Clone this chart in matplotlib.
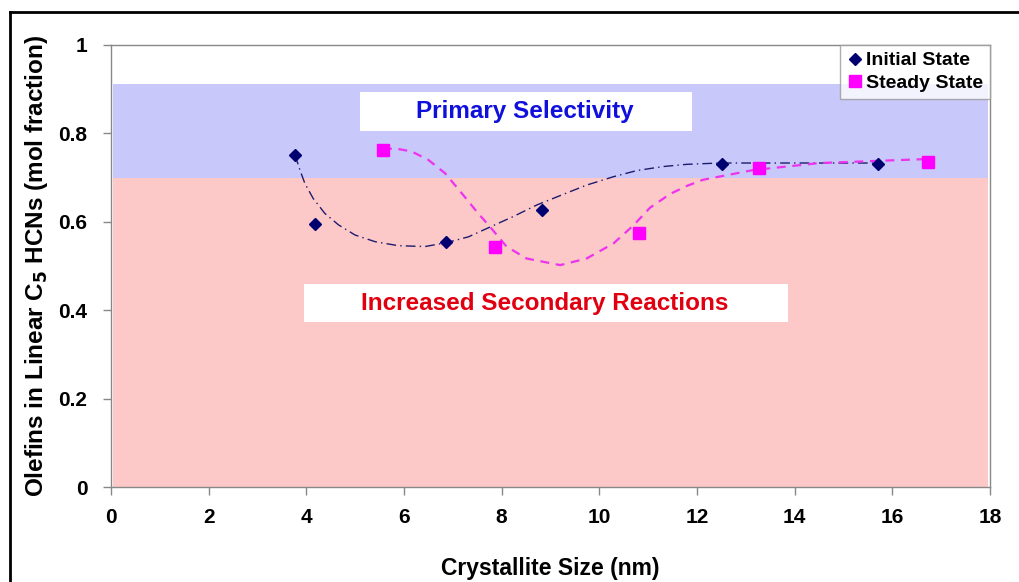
import matplotlib.pyplot as plt
from matplotlib.lines import Line2D
from matplotlib.patches import Rectangle

plt.rcParams['font.family'] = ['Liberation Sans', 'DejaVu Sans']
plt.rcParams['font.weight'] = 'bold'

# measured points
init_x = [3.77, 4.18, 6.86, 8.83, 12.51, 15.71]
init_y = [0.751, 0.595, 0.554, 0.627, 0.731, 0.731]
steady_x = [5.57, 7.86, 10.81, 13.27, 16.73]
steady_y = [0.762, 0.543, 0.575, 0.722, 0.735]

# smoothed trend lines
init_fit_x = [3.77, 3.87, 3.97, 4.14, 4.38, 4.66, 5.00, 5.41, 5.88, 6.43, 6.88, 7.32, 7.76,
              8.24, 8.72, 9.26, 9.74, 10.29, 10.77, 11.31, 11.79, 12.47, 14.25, 15.69]
init_fit_y = [0.751, 0.717, 0.687, 0.653, 0.619, 0.593, 0.570, 0.555, 0.546, 0.544, 0.553, 0.566, 0.588,
              0.612, 0.638, 0.662, 0.683, 0.702, 0.716, 0.725, 0.730, 0.733, 0.733, 0.733]
steady_fit_x = [5.57, 5.82, 6.16, 6.50, 6.84, 7.18, 7.52, 7.76, 8.10, 8.51, 9.20, 9.74, 10.29,
                10.70, 11.04, 11.45, 11.79, 12.12, 13.15, 14.52, 16.71]
steady_fit_y = [0.764, 0.766, 0.759, 0.740, 0.710, 0.665, 0.619, 0.589, 0.544, 0.517, 0.502, 0.517, 0.551,
                0.592, 0.632, 0.663, 0.681, 0.695, 0.717, 0.733, 0.742]

# selectivity regions
secondary_band = (0.0, 0.70)
primary_band = (0.70, 0.912)

fig = plt.figure(figsize=(10.19, 5.82), dpi=100)
ax = fig.add_axes([0.1089, 0.1632, 0.8626, 0.7595])

ax.axhspan(*secondary_band, xmin=0.002, xmax=0.998, color='#fcc8c8', lw=0, zorder=0)
ax.axhspan(*primary_band, xmin=0.002, xmax=0.998, color='#c8c8fa', lw=0, zorder=0)

ax.plot(init_fit_x, init_fit_y, color='#1c1c6e', lw=1.0, ls=(0, (7, 3, 1, 3)), zorder=2)
ax.plot(steady_fit_x, steady_fit_y, color='#ee33ee', lw=1.6, ls=(0, (4, 3)), zorder=2)
ax.plot(init_x, init_y, 'D', color='#000070', ms=6.5, ls='none', label='Initial State', zorder=3)
ax.plot(steady_x, steady_y, 's', color='#ff00ff', ms=9, ls='none', label='Steady State', zorder=3)

# label boxes
ax.add_patch(Rectangle((5.1, 0.805), 6.8, 0.089, fc='white', ec='none', zorder=4))
ax.add_patch(Rectangle((3.95, 0.373), 9.91, 0.086, fc='white', ec='none', zorder=4))
ax.text(8.48, 0.849, 'Primary Selectivity', color='#1010dd', fontsize=17.5, ha='center', va='center', zorder=5)
ax.text(8.89, 0.416, 'Increased Secondary Reactions', color='#e00010', fontsize=17.5, ha='center', va='center',
        zorder=5)

ax.set_xlim(0, 18)
ax.set_ylim(0, 1)
ax.set_xticks(range(0, 19, 2))
ax.set_yticks([0, 0.2, 0.4, 0.6, 0.8, 1])
ax.set_yticklabels(['0', '0.2', '0.4', '0.6', '0.8', '1'])
ax.tick_params(labelsize=15, colors='#888888', labelcolor='black', length=6, width=1)
ax.tick_params(axis='x', pad=9)
ax.tick_params(axis='y', pad=11)
for s in ax.spines.values():
    s.set_color('#888888')
    s.set_linewidth(1)

ax.set_xlabel('Crystallite Size (nm)', fontsize=16.5, fontweight='bold', labelpad=22)
ax.set_ylabel('Olefins in Linear C$_\\mathbf{5}$ HCNs (mol fraction)', fontsize=17.5, fontweight='bold',
              labelpad=6)

leg = ax.legend(loc='upper right', fontsize=14, frameon=True, fancybox=False, borderaxespad=0,
                handletextpad=0.1, handlelength=0.9, borderpad=0.35, labelspacing=0.25)
leg.get_frame().set_edgecolor('#999999')
leg.get_frame().set_linewidth(1)

# outer frame
fig.add_artist(Line2D([0.0098, 1.0], [0.979, 0.979], color='black', lw=2, transform=fig.transFigure))
fig.add_artist(Line2D([0.0098, 0.0098], [0.0, 0.979], color='black', lw=2, transform=fig.transFigure))

fig.savefig('out.png', dpi=100)
